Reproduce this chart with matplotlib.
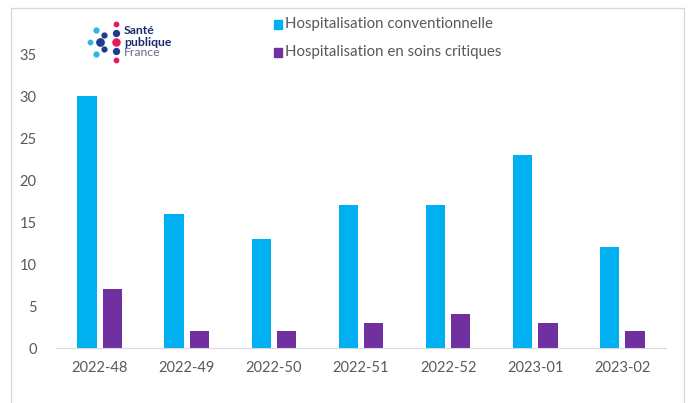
import numpy as np
import matplotlib.pyplot as plt
from matplotlib.patches import Rectangle

weeks = ['2022-48', '2022-49', '2022-50', '2022-51', '2022-52', '2023-01', '2023-02']
hosp_conv = [30, 16, 13, 17, 17, 23, 12]
hosp_crit = [7, 2, 2, 3, 4, 3, 2]

blue = '#00B0F0'
purple = '#7030A0'
txt = '#595959'

plt.rcParams['font.family'] = ['Lato', 'DejaVu Sans']

W, H = 688, 403
fig = plt.figure(figsize=(W / 100, H / 100), dpi=100)

# outer frame
fig.patches.append(Rectangle((11 / W, -0.05), 673 / W, 1.05 - 8 / H, transform=fig.transFigure,
                             fill=False, edgecolor='#D9D9D9', lw=1))

ax = fig.add_axes([56 / W, 55 / H, 610 / W, 294 / H])
x = np.arange(len(weeks))
w = 0.22
ax.bar(x - 0.145, hosp_conv, w, color=blue)
ax.bar(x + 0.145, hosp_crit, w, color=purple)
ax.set_xlim(-0.5, len(weeks) - 0.5)
ax.set_ylim(0, 35)
ax.set_yticks(range(0, 36, 5))
ax.set_xticks(x)
ax.set_xticklabels(weeks)
for s in ['top', 'right', 'left']:
    ax.spines[s].set_visible(False)
ax.spines['bottom'].set_color('#D9D9D9')
ax.tick_params(axis='both', length=0, colors=txt, labelsize=10.5)
ax.tick_params(axis='y', pad=14)
ax.tick_params(axis='x', pad=9)

# legend
for yy, c, lab in [(24, blue, 'Hospitalisation conventionnelle'),
                   (52, purple, 'Hospitalisation en soins critiques')]:
    fig.patches.append(Rectangle((274 / W, 1 - (yy + 5) / H), 8 / W, 9 / H,
                                 transform=fig.transFigure, color=c))
    fig.text(285 / W, 1 - yy / H, lab, fontsize=10.8, color=txt, va='center', ha='left')

# logo
fig.text(124 / W, 1 - 30 / H, 'Santé', fontsize=8.8, color='#1d2a6b', fontweight='bold', va='center')
fig.text(124 / W, 1 - 42 / H, 'publique', fontsize=8.8, color='#1d2a6b', fontweight='bold', va='center')
fig.text(124 / W, 1 - 53 / H, 'France', fontsize=8.8, color='#6a6a8a', va='center')
dots = [(116, 24, '#e5195e', 10), (116, 33, '#1d3c8f', 18), (116, 42, '#e5195e', 26),
        (116, 51, '#1d3c8f', 18), (116, 60, '#e5195e', 10), (104, 35, '#1d3c8f', 12),
        (104, 49, '#1d3c8f', 12), (100, 42, '#1d3c8f', 28), (96, 30, '#2bb5e8', 12),
        (96, 54, '#2bb5e8', 12), (90, 42, '#2bb5e8', 10)]
for dx, dy, c, s in dots:
    fig.add_artist(plt.Line2D([dx / W], [1 - dy / H], marker='o', color=c, ms=np.sqrt(s),
                              transform=fig.transFigure, lw=0))

fig.savefig('out.png', dpi=100)
